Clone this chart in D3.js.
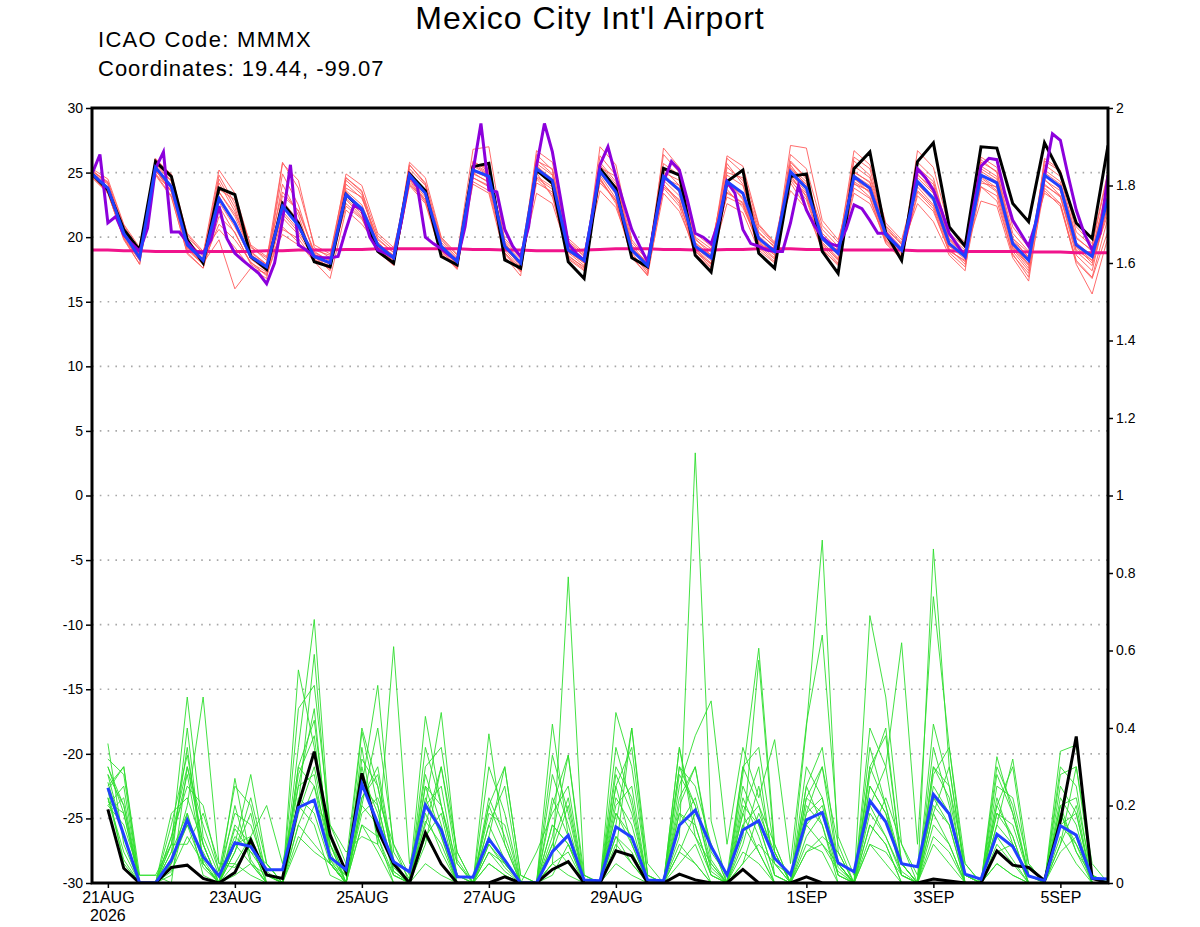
<!DOCTYPE html>
<html>
<head>
<meta charset="utf-8">
<script src="https://cdn.jsdelivr.net/npm/d3@7"></script>
<style>
  body { margin: 0; background: #fff; }
  text { font-family: "Liberation Sans", Arial, sans-serif; }
</style>
</head>
<body>
<div id="container"></div>
<script>
// ---- chart values ----

// temperature runs: 6-hourly from 20 Aug 18Z (65 steps), left axis (deg C)
const tempStart = "2026-08-20T18:00:00Z";
// precipitation runs: 6-hourly from 21 Aug 00Z (64 steps), right axis
const precipStart = "2026-08-21T00:00:00Z";

const blackTemp = [24.9,23.65,20.6,19.0, 25.85,24.7,19.8,18.0, 23.8,23.3,18.5,17.5, 22.6,21.1,18.1,17.7,
  23.3,22.1,18.9,18.0, 24.9,23.6,18.5,17.85, 25.46,25.72,18.24,17.6, 25.2,24.17,18.1,16.8,
  25.33,23.78,18.4,17.7, 25.33,24.8,18.6,17.3, 24.3,25.2,18.75,17.6, 24.7,24.9,18.9,17.2,
  25.3,26.6,20.3,18.2, 25.85,27.3,20.8,19.3, 27.0,26.9,22.6,21.2, 27.3,24.9,21.1,19.9, 27.1];

const blueTemp = [24.9,23.8,20.3,18.4, 25.4,23.9,19.4,18.2, 23.0,21.1,18.5,17.7, 22.4,20.9,18.5,18.0,
  23.3,22.2,19.4,18.4, 24.8,23.4,19.3,18.1, 25.2,24.7,19.3,18.0, 25.3,24.4,19.0,18.2,
  25.1,23.5,19.0,17.8, 24.7,23.65,19.3,18.4, 24.3,23.4,19.9,18.9, 25.07,23.8,19.9,18.75,
  24.7,23.8,20.2,19.0, 24.3,23.0,19.5,18.5, 24.8,24.2,19.5,18.2, 24.8,23.9,19.4,18.5, 23.0];

// purple run is 3-hourly (129 steps)
const purpleTemp = [24.9,26.4,21.1,21.6,20.2,19.5,18.9,20.7, 25.3,26.6,20.4,20.4,19.6,18.9,18.75,19.8,
  22.4,19.9,18.75,18.2,17.7,17.2,16.4,18.0, 21.3,25.6,19.4,19.0,18.5,18.4,18.4,18.5,
  20.6,22.5,22.1,20.0,19.0,18.75,18.4,21.3, 24.8,23.9,20.0,19.5,19.1,18.6,18.2,20.8,
  25.1,28.8,23.65,23.5,20.6,19.3,18.5,20.8, 25.5,28.8,26.6,23.1,19.5,18.75,18.2,21.6,
  25.6,27.0,24.7,22.6,20.6,19.3,18.1,21.3, 24.3,25.85,25.2,22.9,20.3,20.0,19.5,21.3,
  24.3,23.4,20.6,19.5,19.3,19.0,18.9,18.9, 21.1,24.0,22.1,20.9,20.0,19.5,19.3,20.6,
  22.5,22.2,21.3,20.3,20.3,19.65,19.0,21.3, 25.3,24.6,23.65,22.1,20.3,19.4,18.5,22.1,
  25.5,26.1,26.0,23.4,21.3,20.3,19.3,21.3, 24.7,28.0,27.5,24.7,22.1,20.3,19.0,20.3, 24.8];

const pinkTemp = [19.0,19.0,18.95,18.95, 18.9,18.9,18.9,18.9, 18.9,18.9,18.9,18.95, 18.95,19.0,19.0,19.0,
  19.05,19.05,19.1,19.1, 19.1,19.1,19.1,19.1, 19.05,19.05,19.0,19.0, 18.95,18.95,18.95,19.0,
  19.05,19.1,19.1,19.1, 19.05,19.05,19.0,19.0, 19.05,19.05,19.1,19.1, 19.1,19.05,19.05,19.0,
  19.0,19.0,19.0,19.0, 18.95,18.95,18.95,18.9, 18.9,18.9,18.9,18.85, 18.85,18.85,18.8,18.8, 18.8];

const redMembers = [
  [25.0,24.1,20.6,18.8, 25.6,24.3,19.8,18.5, 24.8,22.6,18.9,17.9, 24.9,22.5,18.6,17.5, 24.1,23.0,19.9,18.8, 25.3,24.0,19.6,18.3, 25.9,25.1,19.7,18.4, 26.0,24.9,19.2,18.1, 25.6,24.1,19.3,17.6, 25.0,24.4,19.8,18.9, 25.7,24.1,20.4,19.2, 25.9,24.6,20.3,19.1, 25.1,24.2,20.8,19.4, 24.9,23.5,19.8,18.6, 25.5,24.7,19.9,18.4, 25.2,24.3,19.9,19.0, 23.8],
  [24.7,23.5,19.8,17.9, 24.9,23.2,18.7,17.6, 21.6,20.4,17.9,17.1, 20.8,19.6,18.1,17.6, 22.6,21.5,18.9,17.8, 24.1,22.8,18.8,17.5, 24.6,24.0,18.7,17.3, 24.6,23.7,18.3,17.4, 24.4,22.8,18.5,17.0, 23.9,22.9,18.7,17.6, 23.5,22.6,19.2,18.1, 24.4,22.9,19.3,18.0, 23.8,23.0,19.5,18.3, 23.5,22.2,18.8,17.7, 23.9,23.2,18.6,17.2, 23.8,22.6,18.2,16.9, 21.5],
  [24.8,23.6,20.0,18.2, 25.2,23.5,19.1,18.0, 19.8,16.0,17.6,17.2, 21.5,20.2,18.4,17.9, 23.0,21.8,19.1,18.0, 25.6,24.2,19.9,18.6, 26.8,27.0,19.6,17.8, 25.0,23.1,18.6,17.6, 26.3,24.8,18.8,17.2, 23.4,22.0,19.0,17.9, 26.1,25.0,20.9,19.5, 24.2,22.3,19.1,17.8, 26.2,25.3,20.5,19.2, 22.6,21.2,18.6,17.4, 25.8,25.1,20.3,18.9, 23.6,22.4,18.1,16.8, 20.5],
  [25.1,24.3,20.9,19.0, 25.8,24.9,20.2,18.7, 25.2,23.4,19.3,18.2, 25.8,23.8,19.4,18.7, 24.6,23.5,20.1,19.0, 24.5,22.9,18.9,17.7, 24.3,23.6,18.8,17.5, 26.7,25.8,19.9,18.8, 24.6,22.6,18.4,17.1, 26.9,25.4,20.0,19.1, 23.1,22.5,19.6,18.6, 27.1,26.9,21.3,19.8, 24.2,23.1,19.6,18.4, 26.7,25.4,20.7,19.6, 23.9,22.8,18.7,16.9, 26.1,25.2,20.4,19.3, 24.9],
  [24.6,23.4,19.9,17.9, 24.8,23.1,18.8,17.6, 22.4,20.3,18.0,17.3, 23.2,22.1,18.9,18.1, 22.4,21.4,18.8,17.9, 24.0,22.6,18.6,17.6, 25.0,24.2,19.0,17.6, 24.7,23.9,18.5,17.7, 27.0,25.6,19.8,18.3, 24.1,22.8,18.9,17.7, 24.8,24.0,20.1,19.0, 25.6,23.9,19.6,18.4, 23.4,22.6,19.9,18.9, 25.4,24.3,20.3,19.2, 24.6,23.6,19.2,17.8, 24.1,23.1,18.6,17.4, 22.6],
  [25.3,24.5,21.0,19.2, 26.0,24.6,20.0,18.8, 23.5,21.8,19.2,18.4, 22.0,20.6,19.0,18.6, 23.8,23.1,19.8,18.8, 25.1,23.6,19.4,18.0, 25.6,24.9,19.9,18.5, 25.7,24.8,19.5,18.6, 24.2,22.9,19.1,18.0, 25.3,24.0,19.6,18.5, 24.5,23.0,19.7,18.7, 25.4,24.3,20.6,19.3, 25.9,24.8,20.9,19.6, 23.6,22.4,19.0,18.1, 24.2,23.9,19.6,18.3, 25.6,24.7,20.0,18.9, 24.2],
  [24.9,23.8,20.4,18.5, 25.5,24.0,19.3,18.0, 21.0,19.8,18.1,17.0, 20.6,19.9,18.2,17.8, 24.6,23.6,19.2,18.3, 24.6,23.1,19.1,17.9, 25.5,24.8,19.1,17.9, 23.4,22.6,18.8,17.8, 25.8,24.3,19.4,17.9, 24.4,23.2,19.2,18.2, 22.6,21.9,19.0,18.0, 24.7,23.2,19.8,18.6, 24.8,24.0,20.2,19.1, 24.8,23.8,19.9,18.8, 22.8,22.4,18.4,16.6, 24.5,23.2,19.0,18.2, 21.8],
  [25.0,23.9,20.1,18.3, 25.3,23.7,19.6,18.3, 24.2,22.0,18.7,17.6, 24.1,21.7,18.1,16.8, 22.1,21.0,19.4,18.6, 24.9,23.7,19.8,18.4, 24.9,24.3,18.8,17.4, 26.4,25.2,19.6,18.5, 25.0,23.7,19.0,17.8, 23.8,22.4,18.6,17.3, 25.4,24.4,20.7,19.4, 23.6,22.2,19.0,17.9, 25.5,24.6,20.6,19.5, 24.1,22.8,19.1,17.9, 26.2,25.4,20.8,19.2, 23.4,22.6,17.9,15.6, 20.0],
  [24.8,23.7,20.2,18.6, 25.1,23.8,19.2,18.1, 23.7,22.9,19.4,18.5, 23.5,22.0,18.8,18.2, 23.6,22.5,19.6,18.5, 24.7,23.3,19.2,17.9, 25.3,24.5,19.5,18.3, 25.1,24.1,18.9,18.0, 25.3,23.9,19.1,18.1, 26.4,25.0,19.9,18.6, 24.0,23.4,19.8,19.1, 24.5,23.4,20.1,18.9, 26.7,25.6,21.1,19.8, 24.4,22.9,19.3,18.3, 24.9,24.1,19.3,17.9, 24.8,23.8,19.5,18.6, 23.5],
  [25.1,24.2,20.5,18.7, 25.7,24.4,20.3,18.9, 20.6,19.2,17.6,16.8, 22.8,21.3,18.3,17.6, 22.9,21.6,19.0,18.2, 25.8,24.6,20.0,18.7, 24.6,23.9,19.2,18.1, 24.5,23.3,18.4,17.5, 24.5,22.8,18.6,17.4, 25.7,24.8,20.3,19.3, 25.0,24.6,20.3,19.3, 24.9,23.5,19.5,18.2, 24.6,23.4,19.8,18.6, 25.8,24.6,20.1,19.0, 25.1,24.3,19.1,17.6, 25.9,25.1,20.8,19.5, 25.1],
  [24.7,23.4,19.9,18.2, 24.9,23.6,19.0,17.9, 23.2,21.0,18.3,17.4, 21.8,20.4,18.6,18.3, 24.9,24.0,20.3,19.2, 24.2,22.9,18.7,17.6, 25.8,25.3,19.4,18.0, 25.5,24.5,19.3,18.3, 23.6,22.3,18.9,17.9, 24.9,23.6,19.5,18.6, 26.3,25.5,21.0,19.6, 25.3,24.1,20.0,18.9, 25.0,24.3,20.4,18.9, 23.9,22.5,19.3,18.7, 26.0,25.0,19.9,18.8, 24.4,23.6,19.2,18.0, 22.9],
  [25.2,24.2,20.6,18.6, 26.1,24.8,19.6,18.3, 24.5,22.3,18.6,17.9, 20.2,19.4,18.5,17.4, 24.4,23.3,19.3,18.1, 25.6,24.1,19.0,17.8, 24.1,23.4,18.5,17.0, 25.9,25.3,19.7,18.7, 25.4,24.7,19.6,18.2, 24.6,23.5,18.9,17.9, 24.4,22.9,19.5,18.4, 26.4,25.3,20.9,19.6, 24.5,23.7,20.0,18.7, 25.1,24.1,19.8,18.6, 24.4,23.5,18.9,17.4, 25.0,24.1,19.6,18.5, 23.9],
  [24.9,23.9,20.3,18.4, 25.4,23.9,19.5,18.2, 22.7,20.8,18.4,17.6, 25.7,24.4,19.2,18.4, 23.2,22.2,19.5,18.6, 25.0,23.5,19.4,18.2, 25.7,25.0,19.3,17.7, 24.2,23.5,18.9,18.0, 25.0,23.3,19.2,17.5, 24.1,22.6,19.4,18.4, 23.7,22.3,19.5,18.8, 25.8,24.5,20.0,18.6, 24.1,23.6,20.1,19.0, 24.6,23.4,19.6,18.4, 25.3,24.5,19.7,18.5, 24.9,23.7,19.3,18.2, 22.4],
  [24.8,23.6,20.3,18.5, 25.2,23.5,19.2,17.9, 23.5,21.6,18.8,17.9, 22.6,20.8,18.7,18.0, 23.5,22.0,19.6,18.5, 24.4,22.7,19.2,18.0, 25.1,24.6,19.3,18.1, 25.6,24.2,19.1,18.2, 24.8,23.0,18.9,17.8, 24.6,24.0,19.1,18.0, 23.4,22.7,19.3,18.3, 24.8,23.1,19.4,18.3, 24.3,23.5,19.7,18.5, 23.2,22.0,18.9,18.2, 24.7,23.8,19.4,17.9, 24.0,23.2,18.9,17.8, 22.2]
];

const blackPrecip = [0.19,0.038,0,0, 0.04,0.046,0.012,0, 0.027,0.111,0.021,0.012, 0.201,0.339,0.124,0.029,
  0.283,0.137,0.05,0, 0.13,0.049,0,0, 0,0.016,0,0, 0.035,0.055,0,0,
  0.083,0.07,0,0, 0.023,0.008,0,0, 0.035,0,0,0, 0.016,0,0,0,
  0,0,0,0, 0.01,0.005,0,0, 0.083,0.046,0.04,0.006, 0.16,0.378,0.012,0];

const bluePrecip = [0.246,0.124,0,0, 0.059,0.163,0.068,0.018, 0.104,0.094,0.034,0.034, 0.195,0.214,0.066,0.034,
  0.255,0.154,0.055,0.029, 0.201,0.137,0.016,0.015, 0.113,0.059,0,0, 0.081,0.123,0.008,0.006,
  0.145,0.118,0.008,0.006, 0.149,0.188,0.094,0.021, 0.137,0.161,0.064,0.021, 0.163,0.182,0.052,0.029,
  0.212,0.158,0.05,0.042, 0.229,0.178,0.023,0.01, 0.126,0.094,0.018,0.006, 0.148,0.124,0.012,0.01];

const greenMembers = [
  [.30,.18,0,0, .10,.48,.12,.02, .12,.08,.02,0, .35,.68,.12,0, .20,.15,.04,0, .25,.12,0,0, .15,.06,0,0, .10,.22,0,0, .18,.10,0,0, .12,1.11,.16,0, .15,.20,.05,0, .22,.30,.04,0, .25,.18,.02,0, .30,.25,0,0, .12,.06,0,0, .15,.12,0,0],
  [.36,.10,0,0, .05,.20,.48,.05, .04,.10,0,0, .55,.35,.06,.02, .39,.20,.03,0, .12,.05,0,0, .20,.10,0,0, .41,.12,0,0, .10,.05,0,0, .08,.18,.10,0, .28,.606,.10,0, .18,.22,.02,0, .10,.05,0,0, .862,.30,.02,0, .05,.02,0,0, .20,.08,0,0],
  [.25,.30,.02,.02, 0,.30,.10,0, .27,.06,0,0, .20,.59,.10,.02, .25,.51,.08,.01, .43,.20,.02,0, .10,.04,0,0, .05,.79,.02,0, .22,.15,0,0, .20,.30,.06,0, .05,.10,.05,0, .40,.885,.08,0, .15,.10,0,0, .12,.08,0,0, .326,.18,.02,0, .10,.20,0,0],
  [.20,.25,0,0, .15,.33,.10,0, .10,.28,.05,0, .45,.51,.15,.08, .12,.10,.61,.05, .20,.44,.06,0, .385,.10,0,0, .15,.10,0,0, .30,.22,0,0, .35,.12,.05,0, .20,.15,.02,0, .10,.08,0,0, .69,.48,.10,.02, .20,.15,0,0, .15,.32,.05,0, .34,.356,.02,0],
  [.24,.05,0,0, .02,.18,.05,0, .05,.12,.20,.05, .25,.45,.05,0, .30,.12,0,0, .30,.35,.08,0, .15,.25,0,0, .33,.18,0,0, .44,.30,.02,0, .25,.38,.47,.10, .35,.22,.37,.05, .41,.64,.12,.02, .20,.30,.62,.10, .739,.35,.02,0, .25,.22,.05,0, .15,.10,.02,0],
  [.22,.06,0,0, .08,.35,.05,0, .10,.05,0,0, .18,.30,.10,0, .35,.10,.02,0, .28,.15,0,0, .05,.02,0,0, .10,.05,0,0, .15,.40,.02,0, .05,.10,0,0, .12,.575,.08,0, .08,.10,.03,0, .30,.20,.02,0, .41,.25,.05,0, .22,.10,.02,0, .28,.30,.05,0],
  [.28,.20,0,0, .12,.25,.20,.03, .18,.15,.03,0, .30,.42,.08,0, .22,.30,.06,0, .18,.08,0,0, .30,.18,0,0, .08,.20,0,0, .35,.20,0,0, .18,.15,.02,0, .22,.12,0,0, .30,.22,.05,0, .18,.12,.02,0, .25,.18,.02,0, .10,.05,0,0, .25,.18,0,0],
  [.18,.22,0,0, .05,.15,.08,0, .08,.22,.05,0, .10,.20,.15,.05, .40,.25,.05,0, .35,.20,.02,0, .05,.02,0,0, .12,.33,.02,0, .08,.40,.05,0, .30,.25,.10,0, .10,.25,.05,.02, .15,.10,.05,0, .40,.30,.05,0, .30,.22,.02,0, .20,.30,.02,0, .12,.05,0,0],
  [.26,.12,0,0, .10,.10,.18,.05, .05,.02,0,0, .15,.25,.05,0, .18,.22,.10,.02, .15,.30,.05,0, .12,.05,0,0, .22,.12,0,0, .05,.02,0,0, .35,.15,.02,0, .18,.30,.02,0, .08,.12,.08,0, .25,.18,.05,0, .15,.10,0,0, .18,.12,0,0, .20,.22,.02,0],
  [.32,.28,0,0, .03,.12,.05,0, .20,.05,.02,0, .28,.38,.05,0, .15,.08,0,0, .10,.30,.08,0, .20,.30,.02,0, .28,.15,0,0, .12,.05,0,0, .22,.30,.08,.02, .30,.35,.08,0, .20,.15,0,0, .12,.22,.10,0, .35,.20,0,0, .28,.18,.02,0, .22,.15,0,0],
  [.20,.15,.02,.02, .10,.28,.06,0, .14,.08,.05,0, .12,.08,.05,.02, .28,.18,.02,0, .05,.02,0,0, .08,.03,0,0, .02,.10,0,0, .25,.10,0,0, .10,.05,0,0, .05,.18,.08,0, .18,.30,.10,0, .35,.20,.05,0, .10,.05,0,0, .05,.02,0,0, .30,.25,0,0],
  [.24,.30,0,0, .18,.22,.10,0, .08,.18,0,0, .22,.18,.05,0, .32,.25,.05,0, .22,.12,0,0, .08,.05,0,.08, .18,.25,0,0, .20,.25,0,0, .28,.20,.03,0, .15,.08,0,0, .25,.35,.05,0, .30,.38,.05,0, .22,.15,0,0, .15,.10,0,0, .08,.12,0,0],
  [.22,.08,0,0, .05,.40,.05,0, .02,.05,0,0, .20,.15,.02,0, .25,.20,.03,0, .20,.25,.02,0, .10,.05,0,0, .05,.08,0,0, .18,.12,0,0, .15,.22,.05,0, .08,.05,0,0, .12,.18,.02,0, .20,.12,.03,0, .18,.30,.02,0, .08,.10,0,0, .18,.10,0,0],
  [.28,.12,0,0, .06,.15,.04,0, .10,.12,.02,0, .15,.10,.05,0, .20,.40,.10,0, .25,.20,.05,0, .18,.15,0,0, .05,.02,0,0, .28,.18,0,0, .18,.12,.02,0, .25,.15,.02,0, .15,.20,.05,0, .10,.08,.02,0, .28,.35,.05,0, .18,.15,.02,0, .10,.30,.02,0],
  [.30,.20,0,0, .08,.18,.02,0, .15,.10,0,0, .30,.25,.10,0, .22,.28,.05,0, .16,.10,0,0, .12,.30,.02,0, .20,.33,0,0, .25,.35,.02,0, .30,.20,.04,0, .18,.08,0,0, .22,.18,.05,0, .28,.40,.05,0, .18,.10,0,0, .30,.20,.02,0, .15,.18,0,0],
  [.21,.18,0,0, .12,.30,.15,.03, .25,.20,.02,0, .25,.28,.06,0, .15,.12,.02,0, .12,.18,0,0, .22,.12,0,0, .15,.10,.02,0, .12,.08,0,0, .08,.05,0,0, .30,.20,.10,0, .25,.15,.02,0, .15,.10,0,0, .22,.18,0,0, .20,.12,0,0, .18,.08,.02,0]
];

// axis ticks
const tempTicks = [-30,-25,-20,-15,-10,-5,0,5,10,15,20,25,30];
const precipTicks = [0,0.2,0.4,0.6,0.8,1,1.2,1.4,1.6,1.8,2];
const dateTicks = ["2026-08-21","2026-08-23","2026-08-25","2026-08-27","2026-08-29","2026-09-01","2026-09-03","2026-09-05"];
const dateLabels = ["21AUG","23AUG","25AUG","27AUG","29AUG","1SEP","3SEP","5SEP"];

// ---- drawing ----
const width = 1200, height = 927;
const plot = { left: 92, right: 1108, top: 108, bottom: 883 };

const svg = d3.create("svg")
  .attr("width", width)
  .attr("height", height)
  .style("background", "#fff");
container.append(svg.node());

const x = d3.scaleUtc()
  .domain([new Date("2026-08-20T18:00:00Z"), new Date("2026-09-05T18:00:00Z")])
  .range([plot.left, plot.right]);
const yT = d3.scaleLinear().domain([-30, 30]).range([plot.bottom, plot.top]);
const yP = d3.scaleLinear().domain([0, 2]).range([plot.bottom, plot.top]);

const t0 = new Date(tempStart);
const p0 = new Date(precipStart);

// line makers for a series sampled every `hours` from `start`
const lineT = (start, hours) => d3.line()
  .x((d, i) => x(d3.utcHour.offset(start, hours * i)))
  .y(d => yT(d));
const lineP = (start, hours) => d3.line()
  .x((d, i) => x(d3.utcHour.offset(start, hours * i)))
  .y(d => yP(d));

// dotted grid on the temperature ticks
svg.append("g")
  .selectAll("line")
  .data(tempTicks.filter(d => d > -30 && d < 30))
  .join("line")
  .attr("x1", plot.left).attr("x2", plot.right)
  .attr("y1", d => yT(d)).attr("y2", d => yT(d))
  .attr("stroke", "#a8a8a8")
  .attr("stroke-width", 1.6)
  .attr("stroke-dasharray", "1.6,6.2");

svg.append("clipPath").attr("id", "clip")
  .append("rect")
  .attr("x", plot.left).attr("y", plot.top)
  .attr("width", plot.right - plot.left).attr("height", plot.bottom - plot.top);

const g = svg.append("g").attr("clip-path", "url(#clip)");

// ensemble members
g.selectAll(".red")
  .data(redMembers)
  .join("path")
  .attr("class", "red")
  .attr("d", lineT(t0, 6))
  .attr("fill", "none")
  .attr("stroke", "#ff5c5c")
  .attr("stroke-width", 0.9);

g.selectAll(".green")
  .data(greenMembers)
  .join("path")
  .attr("class", "green")
  .attr("d", lineP(p0, 6))
  .attr("fill", "none")
  .attr("stroke", "#2ede2e")
  .attr("stroke-width", 0.9);

// thick runs
const thick = (d, gen, colour) => g.append("path")
  .datum(d)
  .attr("d", gen)
  .attr("fill", "none")
  .attr("stroke", colour)
  .attr("stroke-width", 3)
  .attr("stroke-linejoin", "miter");

thick(pinkTemp, lineT(t0, 6), "#f0148c");
thick(blackTemp, lineT(t0, 6), "#000");
thick(purpleTemp, lineT(t0, 3), "#8c00dc");
thick(blueTemp, lineT(t0, 6), "#2040ff");
thick(blackPrecip, lineP(p0, 6), "#000");
thick(bluePrecip, lineP(p0, 6), "#2040ff");

// axes
const styleAxis = (sel) => {
  sel.select(".domain").remove();
  sel.selectAll(".tick line").attr("stroke", "#000").attr("stroke-width", 1.5);
  sel.selectAll(".tick text")
    .attr("fill", "#000")
    .style("font-family", "'Liberation Sans', Arial, sans-serif")
    .style("font-size", "14px");
};

svg.append("g")
  .attr("transform", `translate(${plot.left},0)`)
  .call(d3.axisLeft(yT).tickValues(tempTicks).tickSize(6).tickPadding(3).tickFormat(d => String(d)))
  .call(styleAxis);

svg.append("g")
  .attr("transform", `translate(${plot.right},0)`)
  .call(d3.axisRight(yP).tickValues(precipTicks).tickSize(5).tickPadding(3).tickFormat(d => String(+d.toFixed(1))))
  .call(styleAxis);

const xAxis = svg.append("g")
  .attr("transform", `translate(0,${plot.bottom})`)
  .call(d3.axisBottom(x)
    .tickValues(dateTicks.map(d => new Date(d + "T00:00:00Z")))
    .tickSize(5).tickPadding(4)
    .tickFormat((d, i) => dateLabels[i]))
  .call(styleAxis);
xAxis.selectAll(".tick text").style("font-size", "16px");

xAxis.append("text")
  .attr("x", x(new Date(dateTicks[0] + "T00:00:00Z")))
  .attr("y", 38)
  .attr("text-anchor", "middle")
  .attr("fill", "#000")
  .style("font-size", "16px")
  .text("2026");

// frame
svg.append("rect")
  .attr("x", plot.left).attr("y", plot.top)
  .attr("width", plot.right - plot.left).attr("height", plot.bottom - plot.top)
  .attr("fill", "none")
  .attr("stroke", "#000")
  .attr("stroke-width", 3);

// titles
svg.append("text")
  .attr("x", 590).attr("y", 29)
  .attr("text-anchor", "middle")
  .style("font-size", "32px")
  .style("letter-spacing", "1px")
  .text("Mexico City Int'l Airport");

svg.append("text")
  .attr("x", 98).attr("y", 47)
  .style("font-size", "22px")
  .style("letter-spacing", "1.3px")
  .text("ICAO Code: MMMX");

svg.append("text")
  .attr("x", 98).attr("y", 76)
  .style("font-size", "22px")
  .style("letter-spacing", "1px")
  .text("Coordinates: 19.44, -99.07");
</script>
</body>
</html>
